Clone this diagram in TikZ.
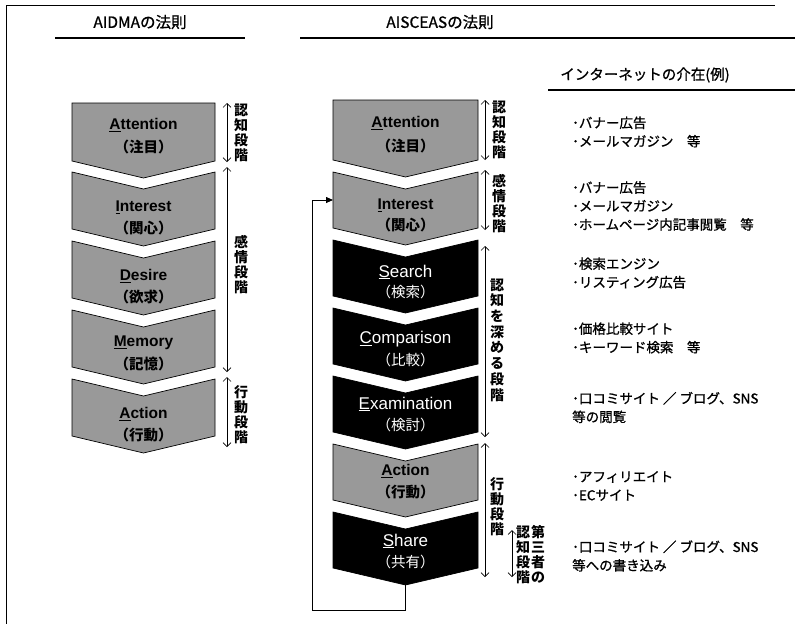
\documentclass[tikz,border=0pt]{standalone}
\usepackage{fontspec}
\setmainfont{Liberation Sans}
\newfontfamily\jp{Noto Sans CJK JP}
\newfontfamily\jpm[FakeBold=0.9]{Noto Sans CJK JP}
\usetikzlibrary{arrows.meta}
\newcommand\chevbox[6]{% name, left, right, top, height, fill
  \path[chevline,fill=#6] (#2,#4) -- ({(#2+#3)/2},{#4+17}) -- (#3,#4) -- (#3,{#4+#5})
    -- ({(#2+#3)/2},{#4+#5+17}) coordinate (#1-tip) -- (#2,{#4+#5}) -- cycle;
  \coordinate (#1-w) at (#2,{#4+#5/2});}
\newcommand\chevtop[6]{%
  \path[chevline,fill=#6] (#2,#4) -- (#3,#4) -- (#3,{#4+#5})
    -- ({(#2+#3)/2},{#4+#5+17}) coordinate (#1-tip) -- (#2,{#4+#5}) -- cycle;}
\newcommand\stagearrow[4]{% name, x, y1, y2
  \coordinate (#1-a) at (#2,#3); \coordinate (#1-b) at (#2,#4);
  \draw[stagearr] (#1-a) -- (#1-b);}
\begin{document}
\begin{tikzpicture}[x=1pt,y=-1pt,
  chevline/.style={draw=black,line width=0.7pt,line join=miter},
  gname/.style={font=\fontsize{15.5}{18}\selectfont\bfseries,text=black,inner sep=0pt},
  gkan/.style={font=\jp\fontsize{14.5}{16}\selectfont\bfseries,text=black,inner sep=0pt},
  bname/.style={font=\fontsize{17}{20}\selectfont,text=white,inner sep=0pt},
  bkan/.style={font=\jp\fontsize{14.5}{16}\selectfont,text=white,inner sep=0pt},
  stagelbl/.style={font=\jp\fontsize{14}{15}\selectfont\bfseries,align=center,inner sep=0pt},
  stagearr/.style={line width=0.7pt,{Straight Barb[length=4pt,width=8pt]}-{Straight Barb[length=4pt,width=8pt]}},
  listtxt/.style={font=\jpm\fontsize{13.5}{18.5}\selectfont,anchor=west,align=left,inner sep=0pt},
  title/.style={font=\jpm\fontsize{15.5}{18}\selectfont,inner sep=0pt},
  looparr/.style={line width=0.8pt,-{Triangle[length=7pt,width=6pt]}}
]
\useasboundingbox (0,0) rectangle (809,624);
\colorlet{gfill}{black!40}
% frame
\draw[line width=0.6pt] (6,624) -- (6,5) -- (775,5);
% titles
\node[title] (tAIDMA) at (140,22) {AIDMAの法則};
\draw[line width=1.2pt] (55,38) -- (245,38);
\node[title] (tAISCEAS) at (440,22) {AISCEASの法則};
\draw[line width=1.2pt] (300,38) -- (795,38);
\node[title,font=\jpm\fontsize{14.5}{17}\selectfont] (tNet) at (645,75) {インターネットの介在(例)};
\draw[line width=1.2pt] (548,90) -- (795,90);

% ---------- left column (AIDMA) ----------
\chevtop{LA}{72}{215}{103}{58}{gfill}
\chevbox{LI}{72}{215}{172}{57}{gfill}
\chevbox{LD}{72}{215}{241}{57}{gfill}
\chevbox{LM}{72}{215}{310}{57}{gfill}
\chevbox{LAc}{72}{215}{379}{57}{gfill}
\node[gname] (LA-n) at (143.5,125) {\underline{A}ttention};
\node[gkan]  (LA-k) at (143.5,147) {（注目）};
\node[gname] (LI-n) at (143.5,207) {\underline{I}nterest};
\node[gkan]  (LI-k) at (143.5,228) {（関心）};
\node[gname] (LD-n) at (143.5,276) {\underline{D}esire};
\node[gkan]  (LD-k) at (143.5,297) {（欲求）};
\node[gname] (LM-n) at (143.5,343) {\underline{M}emory};
\node[gkan]  (LM-k) at (143.5,364) {（記憶）};
\node[gname] (LAc-n) at (143.5,414) {\underline{A}ction};
\node[gkan]  (LAc-k) at (143.5,435) {（行動）};

\stagearrow{la1}{227}{103}{162}
\stagearrow{la2}{227}{167}{372}
\stagearrow{la3}{227}{377}{447}
\node[stagelbl] (ll1) at (241,132.5) {認\\知\\段\\階};
\node[stagelbl] (ll2) at (241,265) {感\\情\\段\\階};
\node[stagelbl] (ll3) at (241,414.5) {行\\動\\段\\階};

% ---------- right column (AISCEAS) ----------
\chevtop{RA}{333}{478}{100}{60}{gfill}
\chevbox{RI}{333}{478}{172}{56}{gfill}
\chevbox{RS}{333}{478}{240}{56}{black}
\chevbox{RC}{333}{478}{308}{56}{black}
\chevbox{RE}{333}{478}{376}{56}{black}
\chevbox{RAc}{333}{478}{444}{56}{gfill}
\chevbox{RSh}{333}{478}{512}{56}{black}
\node[gname] (RA-n) at (405.5,123) {\underline{A}ttention};
\node[gkan]  (RA-k) at (405.5,146) {（注目）};
\node[gname] (RI-n) at (405.5,205) {\underline{I}nterest};
\node[gkan]  (RI-k) at (405.5,225) {（関心）};
\node[bname] (RS-n) at (405.5,272) {\underline{S}earch};
\node[bkan]  (RS-k) at (405.5,292) {（検索）};
\node[bname] (RC-n) at (405.5,339) {\underline{C}omparison};
\node[bkan]  (RC-k) at (405.5,360) {（比較）};
\node[bname] (RE-n) at (405.5,404) {\underline{E}xamination};
\node[bkan]  (RE-k) at (405.5,425) {（検討）};
\node[gname] (RAc-n) at (405.5,471) {\underline{A}ction};
\node[gkan]  (RAc-k) at (405.5,492) {（行動）};
\node[bname] (RSh-n) at (405.5,541) {\underline{S}hare};
\node[bkan]  (RSh-k) at (405.5,562) {（共有）};

% feedback loop
\coordinate (loopBL) at (312,610);
\coordinate (RI-in) at (333,200);
\draw[looparr] (RSh-tip) |- (loopBL) |- (RI-in);

\stagearrow{ra1}{485}{100}{160}
\stagearrow{ra2}{485}{170}{230}
\stagearrow{ra3}{485}{246}{437}
\stagearrow{ra4}{485}{443}{577}
\stagearrow{ra5}{512}{530}{577}
\node[stagelbl] (rl1) at (499,130) {認\\知\\段\\階};
\node[stagelbl] (rl2) at (499,203.5) {感\\情\\段\\階};
\node[stagelbl,font=\jp\fontsize{14}{15.7}\selectfont\bfseries] (rl3) at (497,340) {認\\知\\を\\深\\め\\る\\段\\階};
\node[stagelbl] (rl4) at (497,506.5) {行\\動\\段\\階};
\node[stagelbl] (rl5a) at (523,555) {認\\知\\段\\階};
\node[stagelbl] (rl5b) at (538,554) {第\\三\\者\\の};

% ---------- internet examples ----------
\node[listtxt] (n1) at (572,132) {･バナー広告\\･メールマガジン　等};
\node[listtxt] (n2) at (572,206) {･バナー広告\\･メールマガジン\\･ホームページ内記事閲覧　等};
\node[listtxt] (n3) at (572,273) {･検索エンジン\\･リスティング広告};
\node[listtxt] (n4) at (572,338) {･価格比較サイト\\･キーワード検索　等};
\node[listtxt] (n5) at (572,407.5) {･口コミサイト ／ ブログ、SNS\\等の閲覧};
\node[listtxt] (n6) at (572,486) {･アフィリエイト\\･ECサイト};
\node[listtxt] (n7) at (572,556) {･口コミサイト ／ ブログ、SNS\\等への書き込み};
\end{tikzpicture}
\end{document}
